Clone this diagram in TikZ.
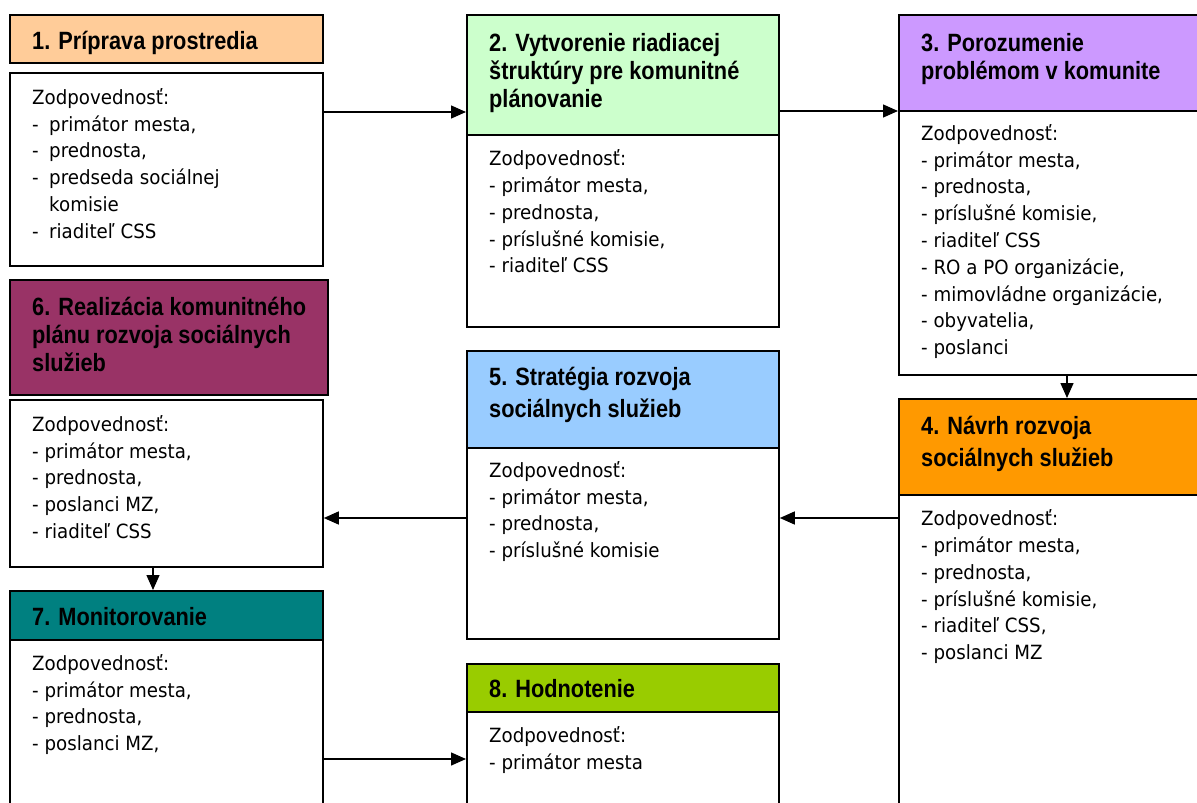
\documentclass[tikz,border=0pt]{standalone}
\usepackage{fontspec}
\newfontfamily\headfont[FakeStretch=0.87]{Liberation Sans}
\newfontfamily\bodyfont[FakeStretch=0.93]{DejaVu Sans}
\usetikzlibrary{arrows.meta}
\definecolor{cone}{HTML}{FFCC99}
\definecolor{ctwo}{HTML}{CCFFCC}
\definecolor{cthree}{HTML}{CC99FF}
\definecolor{cfour}{HTML}{FF9900}
\definecolor{cfive}{HTML}{99CCFF}
\definecolor{csix}{HTML}{993366}
\definecolor{cseven}{HTML}{008080}
\definecolor{ceight}{HTML}{99CC00}
\newcommand\bdash{\makebox[17pt][l]{-}}
\newcommand\hstrut{\rule{0pt}{24pt}}
\newcommand\bstrut{\rule{0pt}{22pt}}
\tikzset{
  frame/.style={draw=black, line width=1.8pt, inner sep=0pt, anchor=north west, fill=white},
  headtext/.style={anchor=north west, inner sep=0pt, align=left, font=\headfont\bfseries\fontsize{25}{28}\selectfont},
  headwide/.style={headtext, font=\headfont\bfseries\fontsize{25}{32}\selectfont},
  bodytext/.style={anchor=north west, inner sep=0pt, align=left, font=\bodyfont\fontsize{19.6}{26.8}\selectfont},
  arr/.style={line width=1.4pt, -{Triangle[length=15pt,width=13pt]}},
}
\begin{document}
\begin{tikzpicture}[x=1pt,y=-1pt]
\useasboundingbox (0,0) rectangle (1197,803);
\clip (0,0) rectangle (1197,803);
\fill[white] (0,0) rectangle (1197,803);

% box 1
\node[frame, fill=cone, minimum width=313pt, minimum height=48pt] (h1) at (9,14) {};
\node[frame, minimum width=313pt, minimum height=193pt] (b1) at (9,72) {};
% box 2
\node[frame, fill=ctwo, minimum width=312pt, minimum height=120pt] (h2) at (466,14) {};
\node[frame, minimum width=312pt, minimum height=192pt] (b2) at (466,134) {};
% box 3
\node[frame, fill=cthree, minimum width=320pt, minimum height=96pt] (h3) at (898,14) {};
\node[frame, minimum width=320pt, minimum height=264pt] (b3) at (898,110) {};
% box 4
\node[frame, fill=cfour, minimum width=320pt, minimum height=96pt] (h4) at (898,398) {};
\node[frame, minimum width=320pt, minimum height=330pt] (b4) at (898,494) {};
% box 5
\node[frame, fill=cfive, minimum width=312pt, minimum height=97pt] (h5) at (466,350) {};
\node[frame, minimum width=312pt, minimum height=191pt] (b5) at (466,447) {};
% box 6
\node[frame, fill=csix, minimum width=318pt, minimum height=115pt] (h6) at (9,279) {};
\node[frame, minimum width=313pt, minimum height=167pt] (b6) at (9,399) {};
% box 7
\node[frame, fill=cseven, minimum width=313pt, minimum height=49pt] (h7) at (9,590) {};
\node[frame, minimum width=313pt, minimum height=200pt] (b7) at (9,639) {};
% box 8
\node[frame, fill=ceight, minimum width=312pt, minimum height=48pt] (h8) at (466,663) {};
\node[frame, minimum width=312pt, minimum height=130pt] (b8) at (466,711) {};

% headings
\node[headtext] (t1) at (32,25) {\hstrut 1. Príprava prostredia};
\node[headtext] (t2) at (489,27.5) {\hstrut 2. Vytvorenie riadiacej\\štruktúry pre komunitné\\plánovanie};
\node[headtext] (t3) at (921,27.5) {\hstrut 3. Porozumenie\\problémom v komunite};
\node[headwide] (t4) at (921,410) {\hstrut 4. Návrh rozvoja\\sociálnych služieb};
\node[headwide] (t5) at (489,361) {\hstrut 5. Stratégia rozvoja\\sociálnych služieb};
\node[headtext] (t6) at (32,291.7) {\hstrut 6. Realizácia komunitného\\plánu rozvoja sociálnych\\služieb};
\node[headtext] (t7) at (32,601) {\hstrut 7. Monitorovanie};
\node[headtext] (t8) at (489,673) {\hstrut 8. Hodnotenie};

% bodies
\node[bodytext] (x1) at (32,82) {\bstrut Zodpovednosť:\\\bdash primátor mesta,\\\bdash prednosta,\\\bdash predseda sociálnej\\\hspace*{17pt}komisie\\\bdash riaditeľ CSS};
\node[bodytext] (x2) at (489,143.5) {\bstrut Zodpovednosť:\\- primátor mesta,\\- prednosta,\\- príslušné komisie,\\- riaditeľ CSS};
\node[bodytext] (x3) at (921,118) {\bstrut Zodpovednosť:\\- primátor mesta,\\- prednosta,\\- príslušné komisie,\\- riaditeľ CSS\\- RO a PO organizácie,\\- mimovládne organizácie,\\- obyvatelia,\\- poslanci};
\node[bodytext] (x4) at (921,503.5) {\bstrut Zodpovednosť:\\- primátor mesta,\\- prednosta,\\- príslušné komisie,\\- riaditeľ CSS,\\- poslanci MZ};
\node[bodytext] (x5) at (489,455) {\bstrut Zodpovednosť:\\- primátor mesta,\\- prednosta,\\- príslušné komisie};
\node[bodytext] (x6) at (32,409) {\bstrut Zodpovednosť:\\- primátor mesta,\\- prednosta,\\- poslanci MZ,\\- riaditeľ CSS};
\node[bodytext] (x7) at (32,648) {\bstrut Zodpovednosť:\\- primátor mesta,\\- prednosta,\\- poslanci MZ,};
\node[bodytext] (x8) at (489,720) {\bstrut Zodpovednosť:\\- primátor mesta};

% connector rows / columns
\coordinate (r1) at (0,112);
\coordinate (r2) at (0,111);
\coordinate (r4) at (0,518);
\coordinate (r7) at (0,759);
\coordinate (c3) at (1067,0);
\coordinate (c6) at (153,0);

\draw[arr] (b1.east |- r1) -- (h2.west |- r1);
\draw[arr] (h2.east |- r2) -- (h3.west |- r2);
\draw[arr] (b3.south -| c3) -- (h4.north -| c3);
\draw[arr] (b4.west |- r4) -- (b5.east |- r4);
\draw[arr] (b5.west |- r4) -- (b6.east |- r4);
\draw[arr] (b6.south -| c6) -- (h7.north -| c6);
\draw[arr] (b7.east |- r7) -- (b8.west |- r7);
\end{tikzpicture}
\end{document}
